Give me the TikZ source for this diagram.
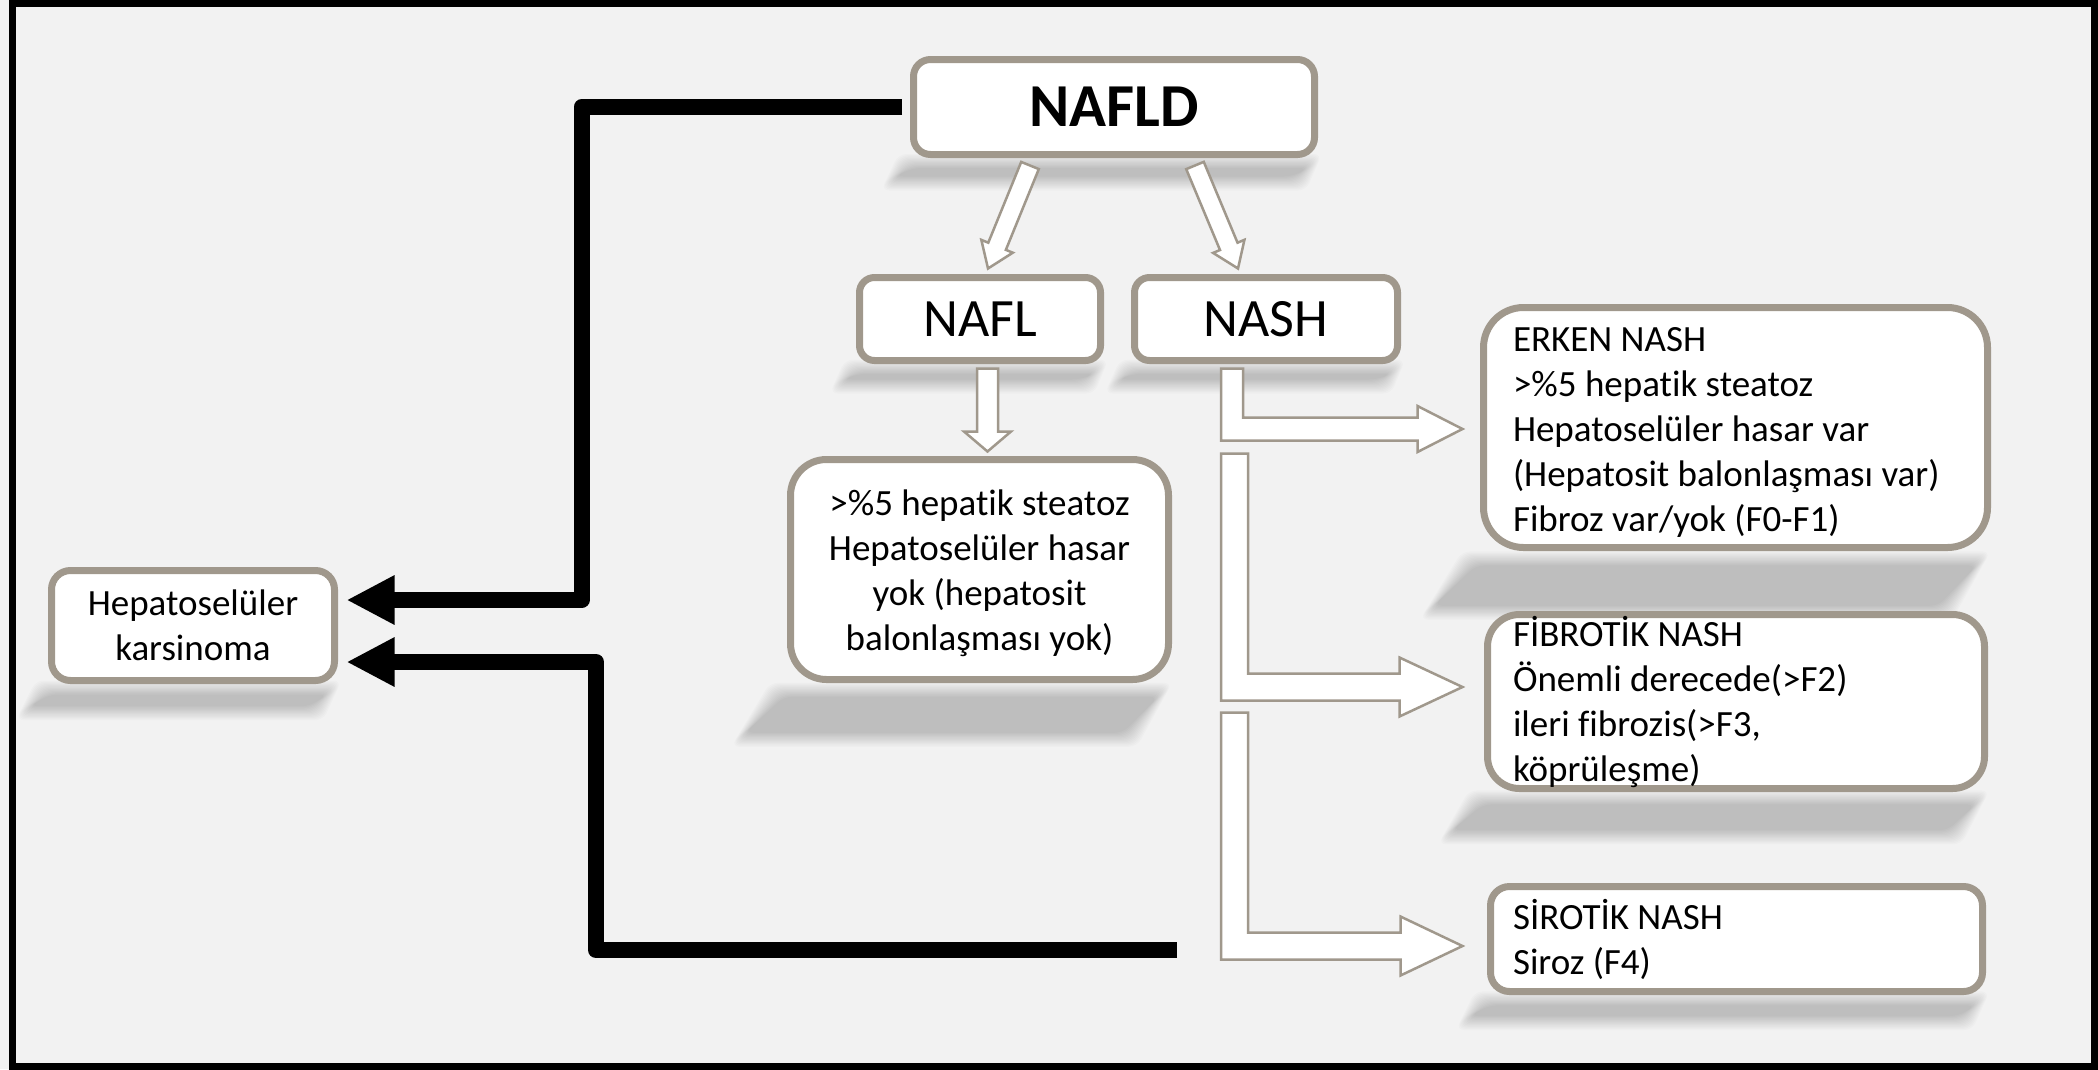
\documentclass[tikz,border=0pt]{standalone}
\usepackage{fontspec}
\setmainfont{Carlito}[Ligatures=NoCommon]
\usetikzlibrary{arrows.meta,calc}
\definecolor{bg}{HTML}{F2F2F2}
\definecolor{bord}{HTML}{A0988C}
\newcommand\mainsz{\fontsize{37pt}{45pt}\selectfont}
% blurred perspective shadow: left, right, bottom, height of the box
\newcommand\pshadow[4]{%
  \foreach \i in {0,...,12}{%
    \pgfmathsetmacro\dd{7*(1-\i/6)}%
    \pgfmathsetmacro\yt{#3+0.03*#4-\dd}%
    \pgfmathsetmacro\yb{#3+0.25*#4+\dd}%
    \pgfmathsetmacro\xtl{#1-0.045*#4-\dd}%
    \pgfmathsetmacro\xtr{#2-0.03*#4+\dd}%
    \pgfmathsetmacro\xbl{#1-0.215*#4-\dd}%
    \pgfmathsetmacro\xbr{#2-0.185*#4+\dd}%
    \fill[black,opacity=0.017,rounded corners=8pt] (\xtl,\yt) -- (\xtr,\yt) -- (\xbr,\yb) -- (\xbl,\yb) -- cycle;
  }}
% hollow straight block arrow: start, end, shaft half width, head half width, head length
\newcommand\harrow[5]{%
  \coordinate (hs) at #1;
  \coordinate (he) at #2;
  \coordinate (hh) at ($(he)!#5!(hs)$);
  \draw[hollow] ($(hs)!#3!90:(he)$) -- ($(hh)!#3!90:(he)$) -- ($(hh)!#4!90:(he)$) -- (he)
     -- ($(hh)!#4!-90:(he)$) -- ($(hh)!#3!-90:(he)$) -- ($(hs)!#3!-90:(he)$) -- cycle;
}
\begin{document}
\begin{tikzpicture}[x=1pt,y=-1pt,
  box/.style={draw=bord, line width=7pt, fill=white, inner sep=0pt, align=center, font=\mainsz},
  lbox/.style={box, align=flush left},
  hollow/.style={fill=white, draw=bord, line width=2.5pt, line join=miter},
  conn/.style={line width=16pt, line join=round, -{Triangle[length=48pt,width=46pt]}}]
\useasboundingbox (0,0) rectangle (2098,1069);
\fill[bg] (0,0) rectangle (2098,1069);

% shadows
\pshadow{910}{1318}{158}{102}
\pshadow{856}{1104}{364}{90}
\pshadow{1131}{1401}{364}{90}
\pshadow{787}{1172}{683}{227}
\pshadow{48}{338}{684}{117}
\pshadow{1480}{1991}{551}{247}
\pshadow{1484}{1988}{792}{181}
\pshadow{1487}{1986}{995}{112}

% boxes
\node[box, rounded corners=17pt, minimum width=401pt, minimum height=95pt,
      font=\fontsize{61pt}{63pt}\selectfont\bfseries] (nafld) at (1114,107) {NAFLD};
\node[box, rounded corners=15pt, minimum width=241pt, minimum height=83pt,
      font=\fontsize{54pt}{56pt}\selectfont] (nafl) at (980,319) {NAFL};
\node[box, rounded corners=15pt, minimum width=263pt, minimum height=83pt,
      font=\fontsize{54pt}{56pt}\selectfont] (nash) at (1266,319) {NASH};
\node[box, rounded corners=36pt, minimum width=378pt, minimum height=220pt] (desc) at (979.5,569.5)
  {\rule{0pt}{34pt}>\%5 hepatik steatoz\\Hepatoselüler hasar\\yok (hepatosit\\balonlaşması yok)};
\node[box, rounded corners=19pt, minimum width=283pt, minimum height=110pt] (hep) at (193,625.5)
  {Hepatoselüler\\karsinoma};
\node[lbox, rounded corners=40pt, text width=504pt, minimum height=240pt] (erken) at (1735.5,427.5)
  {\leftskip=29.5pt\rule{0pt}{34pt}ERKEN NASH\\>\%5 hepatik steatoz\\Hepatoselüler hasar var\\(Hepatosit balonlaşması var)\\Fibroz var/yok (F0-F1)\par};
\node[lbox, rounded corners=32pt, text width=497pt, minimum height=174pt] (fib) at (1736,701.5)
  {\leftskip=25.5pt FİBROTİK NASH\\Önemli derecede(>F2)\\ileri fibrozis(>F3,\\köprüleşme)\par};
\node[lbox, rounded corners=19pt, text width=492pt, minimum height=105pt] (sir) at (1736.5,939)
  {\leftskip=22.5pt SİROTİK NASH\\Siroz (F4)\par};

% hollow arrows from NAFLD and NAFL
\harrow{($(nafld.south)+(-84,7.5)$)}{($(nafl.north)+(8,-5.5)$)}{9.5pt}{17pt}{24pt}
\harrow{($(nafld.south)+(81,7.5)$)}{($(nash.north)+(-28,-5.5)$)}{9.5pt}{17pt}{24pt}
\harrow{($(nafl.south)+(7.5,4.5)$)}{($(desc.north)+(8,-4.5)$)}{10.5pt}{23.5pt}{20pt}

% elbow arrows from NASH
\coordinate (e1top) at ($(nash.south)+(-45,4.5)$);
\coordinate (e2top) at ($(e1top)+(0,85)$);
\coordinate (e3top) at ($(e1top)+(0,344)$);
\coordinate (t1) at ($(erken.west)+(-17.5,1.5)$);
\coordinate (t2) at ($(fib.west)+(-21.5,-14.5)$);
\coordinate (t3) at ($(sir.west)+(-24.5,7)$);
\draw[hollow] (e1top) -- ++(22,0) |- ($(t1)+(-45,-11.5)$) -- ++(0,-11.5) -- (t1)
   -- ++(-45,23) -- ++(0,-11.5) -| (e1top) -- cycle;
\draw[hollow] (e2top) -- ++(27,0) |- ($(t2)+(-63,-13.5)$) -- ++(0,-16) -- (t2)
   -- ++(-63,29.5) -- ++(0,-16) -| (e2top) -- cycle;
\draw[hollow] (e3top) -- ++(27,0) |- ($(t3)+(-62,-13.5)$) -- ++(0,-16) -- (t3)
   -- ++(-62,29.5) -- ++(0,-16) -| (e3top) -- cycle;

% black connectors to HCC
\coordinate (sirend) at (1177,950);
\draw[conn] ($(nafld.west)+(-8,0)$) -- ++(-320.5,0) |- ($(hep.east)+(8.5,-25.5)$);
\draw[conn] (sirend) -- ++(-581,0) |- ($(hep.east)+(8.5,36.5)$);

% frame
\draw[line width=7pt] (12,3) rectangle (2094.5,1066);
\end{tikzpicture}
\end{document}
